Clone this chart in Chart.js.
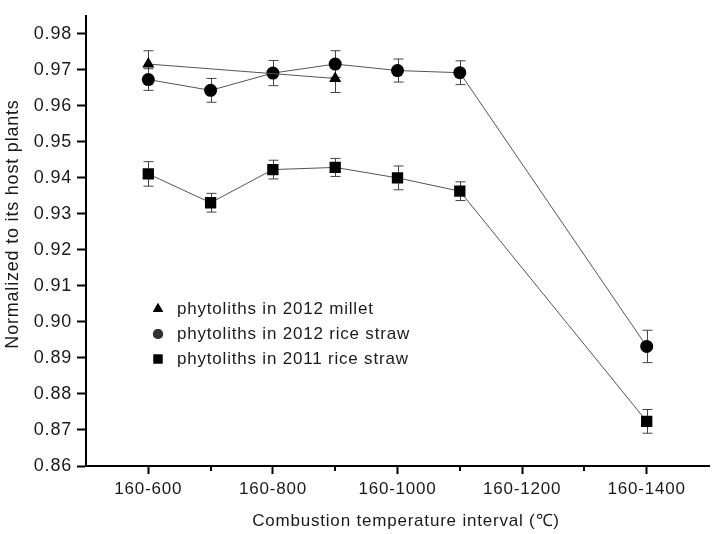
<!DOCTYPE html>
<html>
<head>
<meta charset="utf-8">
<script src="https://cdn.jsdelivr.net/npm/chart.js@4.4.0/dist/chart.umd.min.js"></script>
<style>
  html, body { margin: 0; padding: 0; background: #fff; }
  #wrap { width: 717px; height: 534px; }
</style>
</head>
<body>
<div id="wrap"><canvas id="chart" width="717" height="534"></canvas></div>
<script>
// upper bound of each combustion interval (160-xxx)
const temps = [600, 700, 800, 900, 1000, 1100, 1400]
const milletTemps = [600, 900]

const milletVals = [0.9716, 0.9676]
const milletErr = [0.0037, 0.0039]

const rice2012Vals = [0.9673, 0.9643, 0.9691, 0.9716, 0.9698, 0.9692, 0.8932]
const rice2012Err = [0.0030, 0.0033, 0.0035, 0.0037, 0.0032, 0.0033, 0.0045]

const rice2011Vals = [0.9411, 0.9331, 0.9423, 0.9429, 0.9400, 0.9363, 0.8724]
const rice2011Err = [0.0034, 0.0026, 0.0026, 0.0025, 0.0033, 0.0026, 0.0033]

const seriesNames = ["phytoliths in 2012 millet", "phytoliths in 2012 rice straw", "phytoliths in 2011 rice straw"]
const xMajorTicks = [600, 800, 1000, 1200, 1400]
const xMinorTicks = [700, 900, 1100, 1300]
const yTicks = [0.86, 0.87, 0.88, 0.89, 0.90, 0.91, 0.92, 0.93, 0.94, 0.95, 0.96, 0.97, 0.98]
const xTitle = "Combustion temperature interval (℃)"
const yTitle = "Normalized to its host plants"

const FONT = "'Liberation Sans', Arial, sans-serif"
const TEXT = "#1a1a1a"

const toPoints = (xs, ys) => xs.map((x, i) => ({ x: x, y: ys[i] }))

const makeSet = (label, xs, ys, errs, style, radius) => ({
    label: label,
    data: toPoints(xs, ys),
    errors: errs,
    borderColor: "#555",
    borderWidth: 1,
    backgroundColor: "#000",
    pointBackgroundColor: "#000",
    pointBorderColor: "#000",
    pointBorderWidth: 0,
    pointStyle: style,
    pointRadius: radius,
    pointHoverRadius: radius,
    tension: 0,
    fill: false
})

/* the original figure uses a slightly tracked font */
const spacing = {
    id: "spacing",
    beforeLayout(chart) { chart.ctx.letterSpacing = "0.8px" },
    beforeDraw(chart) { chart.ctx.letterSpacing = "0.8px" }
}

/* error bars, drawn under the markers */
const errorBars = {
    id: "errorBars",
    beforeDatasetsDraw(chart) {
        const { ctx, scales: { x, y } } = chart
        ctx.save()
        ctx.strokeStyle = "#444"
        ctx.lineWidth = 1
        chart.data.datasets.forEach(ds => {
            ds.data.forEach((p, i) => {
                const px = Math.round(x.getPixelForValue(p.x)) + 0.5
                const top = y.getPixelForValue(p.y + ds.errors[i])
                const bot = y.getPixelForValue(p.y - ds.errors[i])
                ctx.beginPath()
                ctx.moveTo(px, top); ctx.lineTo(px, bot)
                ctx.moveTo(px - 5, top); ctx.lineTo(px + 5, top)
                ctx.moveTo(px - 5, bot); ctx.lineTo(px + 5, bot)
                ctx.stroke()
            })
        })
        ctx.restore()
    }
}

/* minor ticks, axis titles and the legend inside the plot */
const extras = {
    id: "extras",
    afterDraw(chart) {
        const { ctx, scales: { x } } = chart
        ctx.save()
        ctx.strokeStyle = "#000"
        ctx.lineWidth = 2
        for (const v of xMinorTicks) {
            const px = Math.round(x.getPixelForValue(v))
            ctx.beginPath()
            ctx.moveTo(px, x.top); ctx.lineTo(px, x.top + 5)
            ctx.stroke()
        }

        ctx.fillStyle = TEXT
        ctx.textAlign = "center"
        ctx.textBaseline = "middle"
        ctx.font = "17px " + FONT
        ctx.fillText(xTitle, 406, 521)

        ctx.save()
        ctx.translate(13, 224)
        ctx.rotate(-Math.PI / 2)
        ctx.font = "18px " + FONT
        ctx.fillText(yTitle, 0, 0)
        ctx.restore()

        const styles = ["triangle", "circle", "rect"]
        const radii = [7, 6, 7.5]
        ctx.font = "17px " + FONT
        ctx.textAlign = "left"
        seriesNames.forEach((name, i) => {
            const ly = 309 + i * 25
            ctx.fillStyle = i === 1 ? "#333" : "#000"
            Chart.helpers.drawPoint(ctx, { pointStyle: styles[i], radius: radii[i] * 0.85, borderWidth: 0 }, 158, ly)
            ctx.fill()
            ctx.fillStyle = TEXT
            ctx.fillText(name, 177, ly)
        })
        ctx.restore()
    }
}

new Chart(document.getElementById("chart"), {
    type: "line",
    data: {
        datasets: [
            makeSet(seriesNames[0], milletTemps, milletVals, milletErr, "triangle", 7),
            makeSet(seriesNames[1], temps, rice2012Vals, rice2012Err, "circle", 6.5),
            makeSet(seriesNames[2], temps, rice2011Vals, rice2011Err, "rect", 8)
        ]
    },
    options: {
        responsive: false,
        animation: false,
        layout: { padding: { top: 4, right: 5, left: 0, bottom: 0 } },
        plugins: {
            legend: { display: false },
            tooltip: { enabled: false }
        },
        scales: {
            x: {
                type: "linear",
                min: 500,
                max: 1500,
                afterBuildTicks: axis => { axis.ticks = xMajorTicks.map(v => ({ value: v })) },
                afterFit: axis => { axis.height = 68 },
                border: { display: true, color: "#000", width: 2 },
                grid: { drawOnChartArea: false, drawTicks: true, tickLength: 8, tickColor: "#000", tickWidth: 2 },
                ticks: {
                    color: TEXT,
                    font: { family: FONT, size: 17 },
                    padding: 5,
                    maxRotation: 0,
                    callback: v => "160-" + v
                }
            },
            y: {
                min: 0.86,
                max: 0.985,
                afterBuildTicks: axis => { axis.ticks = yTicks.map(v => ({ value: v })) },
                afterFit: axis => { axis.width = 86 },
                border: { display: true, color: "#000", width: 2 },
                grid: { drawOnChartArea: false, drawTicks: true, tickLength: 9, tickColor: "#000", tickWidth: 2 },
                ticks: {
                    color: TEXT,
                    font: { family: FONT, size: 18 },
                    padding: 5,
                    callback: v => v.toFixed(2)
                }
            }
        }
    },
    plugins: [spacing, errorBars, extras]
})
</script>
</body>
</html>
